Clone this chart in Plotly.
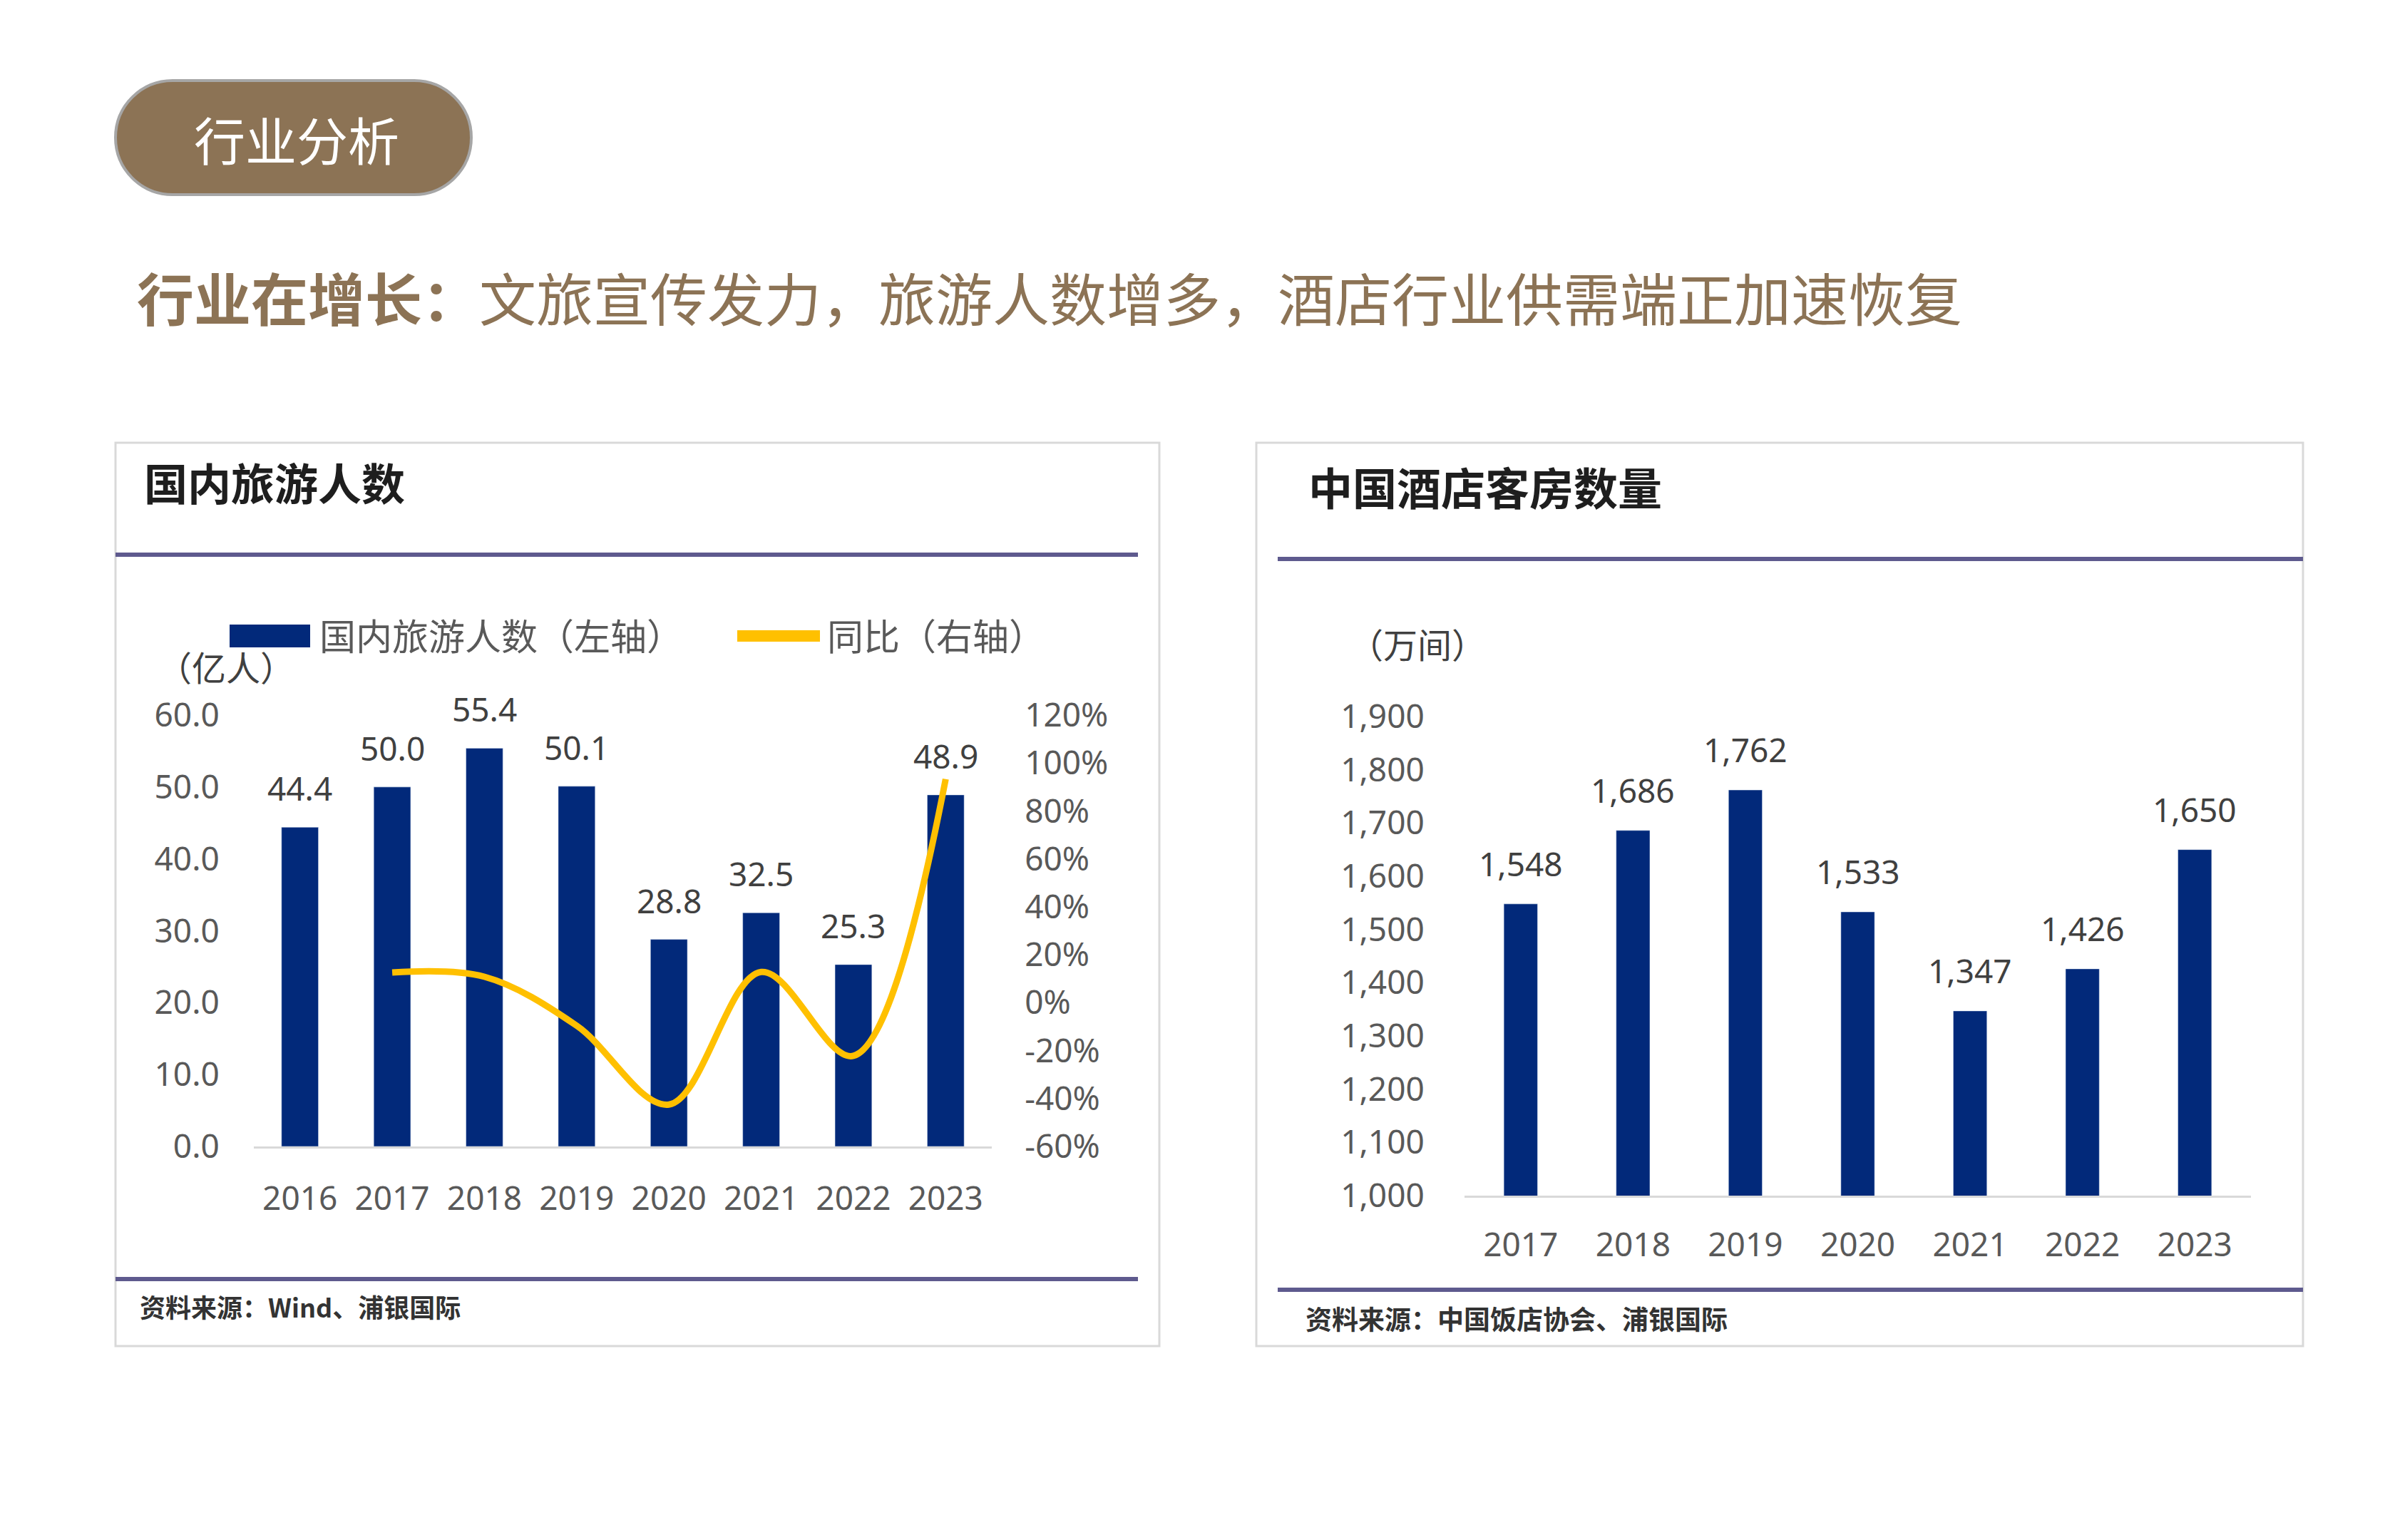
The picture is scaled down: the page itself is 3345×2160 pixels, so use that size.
import plotly.graph_objects as go

# ---------------- data ----------------
years_tour = ["2016", "2017", "2018", "2019", "2020", "2021", "2022", "2023"]
tourists = [44.4, 50.0, 55.4, 50.1, 28.8, 32.5, 25.3, 48.9]          # 亿人
yoy_years = ["2017", "2018", "2019", "2020", "2021", "2022", "2023"]
yoy_pct = [12.6, 10.8, -9.6, -42.5, 12.8, -22.2, 93.3]                # %
pct_tickvals = [-60, -40, -20, 0, 20, 40, 60, 80, 100, 120]
pct_ticklabels = ["-60%", "-40%", "-20%", "0%", "20%", "40%", "60%", "80%", "100%", "120%"]

years_hotel = ["2017", "2018", "2019", "2020", "2021", "2022", "2023"]
rooms = [1548, 1686, 1762, 1533, 1347, 1426, 1650]                   # 万间

# ---------------- styling ----------------
W, H = 3345, 2160
BROWN = "#8C7355"
NAVY = "#02297A"
GOLD = "#FFC000"
PURPLE = "#5E5A8E"
BOXC = "#D9D9D9"
TICKC = "#595959"
NUM_FONT = "Noto Sans, Noto Sans CJK SC, sans-serif"
CJK_FONT = "Noto Sans CJK SC, Noto Sans, sans-serif"


def px(x):
    return x / W


def py(y):
    return 1 - y / H


fig = go.Figure()

# left chart: bars + smoothed yoy line
fig.add_trace(go.Bar(x=years_tour, y=tourists, marker_color=NAVY, width=0.4,
                     xaxis="x", yaxis="y", showlegend=False, hoverinfo="x+y"))
fig.add_trace(go.Scatter(x=yoy_years, y=yoy_pct, mode="lines",
                         line=dict(color=GOLD, width=9, shape="spline", smoothing=1.0),
                         xaxis="x", yaxis="y2", showlegend=False))
# right chart: bars
fig.add_trace(go.Bar(x=years_hotel, y=rooms, marker_color=NAVY, width=0.3,
                     xaxis="x3", yaxis="y3", showlegend=False, hoverinfo="x+y"))

annotations = []
for i, v in enumerate(tourists):
    annotations.append(dict(x=i, y=v, xref="x", yref="y", text=f"{v:.1f}",
                            showarrow=False, yshift=55, yanchor="middle",
                            font=dict(family=NUM_FONT, size=46, color="#404040")))
for i, v in enumerate(rooms):
    annotations.append(dict(x=i, y=v, xref="x3", yref="y3", text=f"{v:,}",
                            showarrow=False, yshift=57, yanchor="middle",
                            font=dict(family=NUM_FONT, size=46, color="#404040")))

# page header
annotations.append(dict(x=px(416), y=py(194), xref="paper", yref="paper",
                        text="行业分析", showarrow=False, xanchor="center", yanchor="middle",
                        font=dict(family=CJK_FONT, size=72, color="white")))
annotations.append(dict(x=px(190), y=py(415), xref="paper", yref="paper",
                        text="<b>行业在增长：</b>文旅宣传发力，旅游人数增多，酒店行业供需端正加速恢复",
                        showarrow=False, xanchor="left", yanchor="middle",
                        font=dict(family=CJK_FONT, size=80, color=BROWN)))

# panel titles
annotations.append(dict(x=px(200), y=py(676), xref="paper", yref="paper",
                        text="<b>国内旅游人数</b>", showarrow=False, xanchor="left", yanchor="middle",
                        font=dict(family=CJK_FONT, size=61, color="#1E1E1E")))
annotations.append(dict(x=px(1833), y=py(682), xref="paper", yref="paper",
                        text="<b>中国酒店客房数量</b>", showarrow=False, xanchor="left", yanchor="middle",
                        font=dict(family=CJK_FONT, size=62, color="#1E1E1E")))

# legend texts
annotations.append(dict(x=px(446), y=py(890), xref="paper", yref="paper",
                        text="国内旅游人数（左轴）", showarrow=False, xanchor="left", yanchor="middle",
                        font=dict(family=CJK_FONT, size=51, color=TICKC)))
annotations.append(dict(x=px(1158), y=py(890), xref="paper", yref="paper",
                        text="同比（右轴）", showarrow=False, xanchor="left", yanchor="middle",
                        font=dict(family=CJK_FONT, size=51, color=TICKC)))
# units
annotations.append(dict(x=px(219), y=py(934), xref="paper", yref="paper",
                        text="（亿人）", showarrow=False, xanchor="left", yanchor="middle",
                        font=dict(family=CJK_FONT, size=48, color="#404040")))
annotations.append(dict(x=px(1890), y=py(902), xref="paper", yref="paper",
                        text="（万间）", showarrow=False, xanchor="left", yanchor="middle",
                        font=dict(family=CJK_FONT, size=48, color="#404040")))

# sources
annotations.append(dict(x=px(194), y=py(1832), xref="paper", yref="paper",
                        text="<b>资料来源：Wind、浦银国际</b>", showarrow=False, xanchor="left", yanchor="middle",
                        font=dict(family=CJK_FONT, size=36, color="#333333")))
annotations.append(dict(x=px(1829), y=py(1849), xref="paper", yref="paper",
                        text="<b>资料来源：中国饭店协会、浦银国际</b>", showarrow=False, xanchor="left",
                        yanchor="middle", font=dict(family=CJK_FONT, size=37, color="#333333")))

# ---------------- shapes ----------------
shapes = []


def P(x, y):
    return f"{px(x):.6f},{py(y):.6f}"


# pill
x0, x1, y0, y1 = 162, 661, 113, 273
r = (y1 - y0) / 2
k = 0.5523 * r
path = (f"M {P(x0 + r, y0)} L {P(x1 - r, y0)} "
        f"C {P(x1 - r + k, y0)} {P(x1, y0 + r - k)} {P(x1, y0 + r)} "
        f"C {P(x1, y0 + r + k)} {P(x1 - r + k, y1)} {P(x1 - r, y1)} "
        f"L {P(x0 + r, y1)} "
        f"C {P(x0 + r - k, y1)} {P(x0, y1 - r + k)} {P(x0, y1 - r)} "
        f"C {P(x0, y0 + r - k)} {P(x0 + r - k, y0)} {P(x0 + r, y0)} Z")
shapes.append(dict(type="path", path=path, xref="paper", yref="paper",
                   fillcolor=BROWN, line=dict(color="#A6A6A6", width=4), layer="below"))

# panel boxes
for bx0, bx1 in [(162, 1626), (1762, 3230)]:
    shapes.append(dict(type="rect", xref="paper", yref="paper",
                       x0=px(bx0), x1=px(bx1), y0=py(1888), y1=py(621),
                       line=dict(color=BOXC, width=3), fillcolor="rgba(0,0,0,0)", layer="below"))

# purple rules
for lx0, lx1, ly in [(162, 1596, 778), (162, 1596, 1794), (1792, 3230, 784), (1792, 3230, 1809)]:
    shapes.append(dict(type="line", xref="paper", yref="paper",
                       x0=px(lx0), x1=px(lx1), y0=py(ly), y1=py(ly),
                       line=dict(color=PURPLE, width=6)))

# legend symbols
shapes.append(dict(type="rect", xref="paper", yref="paper",
                   x0=px(322), x1=px(435), y0=py(908), y1=py(876),
                   fillcolor=NAVY, line=dict(width=0)))
shapes.append(dict(type="line", xref="paper", yref="paper",
                   x0=px(1034), x1=px(1150), y0=py(892), y1=py(892),
                   line=dict(color=GOLD, width=16)))

# ---------------- axes ----------------
tickfont = dict(family=NUM_FONT, size=46, color=TICKC)
hide = "rgba(0,0,0,0)"

fig.update_layout(
    width=W, height=H,
    margin=dict(l=0, r=0, t=0, b=0, pad=0, autoexpand=False),
    paper_bgcolor="white", plot_bgcolor="white",
    font=dict(family=NUM_FONT),
    showlegend=False,
    annotations=annotations,
    shapes=shapes,
    xaxis=dict(domain=[px(356), px(1391)], anchor="y", type="category", automargin=False,
               range=[-0.5, 7.5], showline=True, linecolor=BOXC, linewidth=3,
               ticks="outside", ticklen=31, tickcolor=hide, tickfont=tickfont,
               showgrid=False, zeroline=False),
    yaxis=dict(domain=[py(1608), py(1003)], anchor="x", range=[0, 60], dtick=10,
               automargin=False,
               tickformat=".1f", showgrid=False, zeroline=False, showline=False,
               ticks="outside", ticklen=38, tickcolor=hide, tickfont=tickfont),
    yaxis2=dict(domain=[py(1608), py(1003)], anchor="x", overlaying="y", side="right",
                automargin=False, range=[-60, 120],
                tickmode="array", tickvals=pct_tickvals, ticktext=pct_ticklabels,
                showgrid=False, zeroline=False, showline=False, ticks="outside", ticklen=36,
                tickcolor=hide, tickfont=tickfont),
    xaxis3=dict(domain=[px(2054), px(3157)], anchor="y3", type="category", automargin=False,
                range=[-0.5, 6.5], showline=True, linecolor=BOXC, linewidth=3,
                ticks="outside", ticklen=27, tickcolor=hide, tickfont=tickfont,
                showgrid=False, zeroline=False),
    yaxis3=dict(domain=[py(1677), py(1005)], anchor="x3", range=[1000, 1900], dtick=100,
                automargin=False,
                tickformat=",d", showgrid=False, zeroline=False, showline=False,
                ticks="outside", ticklen=46, tickcolor=hide, tickfont=tickfont),
)

fig.write_html("out.html")
